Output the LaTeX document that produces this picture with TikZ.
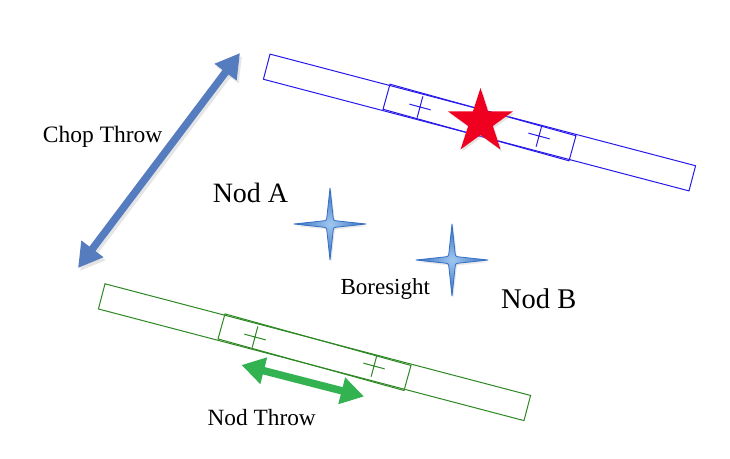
\documentclass[tikz,border=0pt]{standalone}
\usepackage{fontspec}
\setmainfont{Liberation Serif}
\usetikzlibrary{arrows.meta,shapes.geometric}
\definecolor{barblue}{RGB}{40,25,235}
\definecolor{bargreen}{RGB}{45,135,35}
\definecolor{arrowblue}{RGB}{86,124,192}
\definecolor{arrowgreen}{RGB}{50,178,80}
\definecolor{starred}{RGB}{240,0,32}
\definecolor{sparkdark}{RGB}{50,110,195}
\definecolor{sparklight}{RGB}{160,198,238}
\tikzset{
  sparkle/.pic={
    \fill[black!25,opacity=0.35,shift={(1.5,2)}] (0,-36) -- (3,-8) .. controls (3.5,-3.5) .. (8,-3) -- (36,0) -- (8,3) .. controls (3.5,3.5) .. (3,8) -- (0,36) -- (-3,8) .. controls (-3.5,3.5) .. (-8,3) -- (-36,0) -- (-8,-3) .. controls (-3.5,-3.5) .. (-3,-8) -- cycle;
    \draw[draw=sparkdark, line width=0.8pt, line join=round, inner color=sparklight, outer color=sparkdark]
      (0,-36) -- (3,-8) .. controls (3.5,-3.5) .. (8,-3) -- (36,0) -- (8,3) .. controls (3.5,3.5) .. (3,8) -- (0,36) -- (-3,8) .. controls (-3.5,3.5) .. (-8,3) -- (-36,0) -- (-8,-3) .. controls (-3.5,-3.5) .. (-3,-8) -- cycle;
  }
}
\begin{document}
\begin{tikzpicture}[x=1pt,y=-1pt,
  outerbar/.style={draw, line width=1pt, minimum width=440pt, minimum height=26pt, inner sep=0pt, rotate=-14.7},
  innerbar/.style={draw, line width=1pt, minimum width=193pt, minimum height=26pt, inner sep=0pt, rotate=-15.5},
  crossmark/.style={line width=1pt},
  throwarrow/.style={line width=7.5pt, {Triangle[length=24pt,width=26pt]}-{Triangle[length=24pt,width=26pt]}},
  nodarrow/.style={line width=7.5pt, {Triangle[length=23pt,width=26pt]}-{Triangle[length=23pt,width=26pt]}},
  lbl/.style={inner sep=0pt, anchor=base}
]
\useasboundingbox (0,0) rectangle (730,458);
\fill[white] (0,0) rectangle (730,458);

% blue (top) bar
\node[outerbar, barblue] (bluebar) at (479.5,122.5) {};
\node[innerbar, barblue] (blueinner) at (479.5,122.5) {};
\foreach \p in {(420,107),(539,136)}
  \draw[barblue, crossmark, shift={\p}, rotate=-15] (-11,0) -- (11,0) (0,-11) -- (0,11);

% green (bottom) bar
\node[outerbar, bargreen] (greenbar) at (314.5,352.2) {};
\node[innerbar, bargreen] (greeninner) at (314.5,352.2) {};
\foreach \p in {(255,337),(374,366)}
  \draw[bargreen, crossmark, shift={\p}, rotate=-15] (-11,0) -- (11,0) (0,-11) -- (0,11);

% star
\node[star, star points=5, star point ratio=2.618, minimum size=68pt, inner sep=0pt,
      fill=black!30, opacity=0.35] at (482,124) {};
\node[star, star points=5, star point ratio=2.618, minimum size=68pt, inner sep=0pt,
      fill=starred] (target) at (480.5,122) {};

% sparkles
\pic (nodA) at (330,224) {sparkle};
\pic (nodB) at (452,260) {sparkle};

% chop throw arrow
\coordinate (chopA) at (78,268);
\coordinate (chopB) at (240,53);
\coordinate (chopAs) at (80,271);
\coordinate (chopBs) at (242,56);
\draw[throwarrow, black!20, opacity=0.5] (chopAs) -- (chopBs);
\draw[throwarrow, arrowblue] (chopA) -- (chopB);

% nod throw arrow
\coordinate (nodL) at (241.5,365);
\coordinate (nodR) at (364,396.5);
\draw[nodarrow, arrowgreen] (nodL) -- (nodR);

% labels
\node[lbl, font=\fontsize{23.5}{28}\selectfont] (chop) at (102.7,142) {Chop Throw};
\node[lbl, font=\fontsize{28}{32}\selectfont] (labA) at (250.5,202) {Nod A};
\node[lbl, font=\fontsize{23}{28}\selectfont] (bore) at (385.3,294) {Boresight};
\node[lbl, font=\fontsize{28.5}{32}\selectfont] (labB) at (538.7,308) {Nod B};
\node[lbl, font=\fontsize{23.3}{28}\selectfont] (nodthrow) at (261.7,425.5) {Nod Throw};
\end{tikzpicture}
\end{document}
